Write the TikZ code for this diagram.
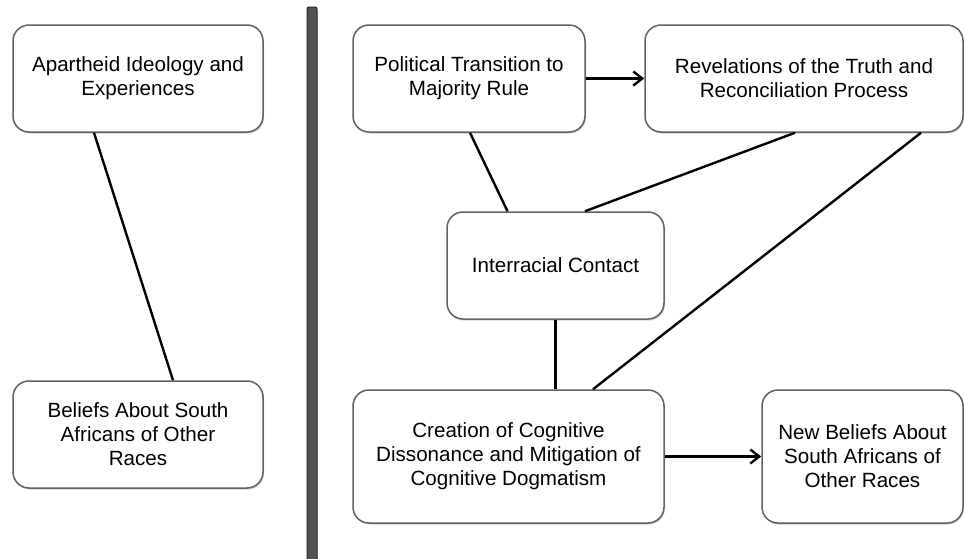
\documentclass[tikz,border=0pt]{standalone}
\usepackage{fontspec}
\setmainfont{Liberation Sans}
\usetikzlibrary{arrows.meta,shadows}
\begin{document}
\begin{tikzpicture}[x=1pt,y=-1pt,
  box/.style={draw=black!62, line width=1.5pt, rounded corners=16pt, fill=white,
    align=center, inner sep=0pt, font=\fontsize{20.6}{24}\selectfont,
    drop shadow={shadow xshift=1pt, shadow yshift=-1.5pt, opacity=0.3, fill=black!60}},
  link/.style={line width=2.4pt, draw=black},
  flow/.style={link, -{Straight Barb[length=9pt,width=14pt,line width=2.4pt]}},
  divider/.style={draw=black!85, fill=black!68, line width=1pt, rounded corners=2pt},
]
\useasboundingbox (0,0) rectangle (964,558);

% left column
\node[box, minimum width=250pt, minimum height=107pt] (apart) at (138,78.5)
  {Apartheid Ideology and\\Experiences};
\node[box, minimum width=250pt, minimum height=107pt] (oldbel) at (138,434.5)
  {Beliefs About South\\Africans of Other\\Races};
\draw[link] ([xshift=-44pt]apart.south) -- ([xshift=35pt]oldbel.north);

% divider bar
\draw[divider] (307,7) rectangle (317,562);

% right column
\node[box, minimum width=232pt, minimum height=107pt] (polit) at (469,78.5)
  {Political Transition to\\Majority Rule};
\node[box, minimum width=318pt, minimum height=107pt] (trc) at (804,78.5)
  {Revelations of the Truth and\\Reconciliation Process};
\node[box, minimum width=217pt, minimum height=107pt] (contact) at (555.5,265.5)
  {Interracial Contact};
\node[box, minimum width=311pt, minimum height=133pt] (cogn) at (508.5,456.5)
  {Creation of Cognitive\\Dissonance and Mitigation of\\Cognitive Dogmatism};
\node[box, minimum width=201pt, minimum height=133pt] (newbel) at (862.5,456.5)
  {New Beliefs About\\South Africans of\\Other Races};

\draw[flow] (polit.east) -- (trc.west);
\draw[link] ([xshift=1pt]polit.south) -- ([xshift=-48pt]contact.north);
\draw[link] ([xshift=-9pt]trc.south) -- ([xshift=29.5pt]contact.north);
\draw[link] ([xshift=117pt]trc.south) -- ([xshift=84.5pt]cogn.north);
\draw[link] (contact.south) -- (contact.south |- cogn.north);
\draw[flow] (cogn.east) -- (newbel.west);
\end{tikzpicture}
\end{document}
